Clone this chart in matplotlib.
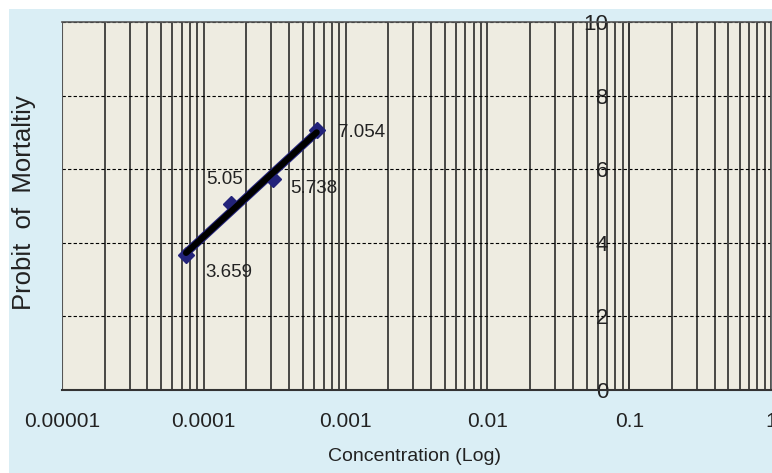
import numpy as np
import matplotlib.pyplot as plt
from matplotlib import font_manager
from matplotlib.patches import Rectangle
from matplotlib.ticker import FixedLocator, LogLocator, NullFormatter

# probit data
conc = [7.5e-5, 1.56e-4, 3.1e-4, 6.25e-4]
probit = [3.659, 5.05, 5.738, 7.054]
point_labels = ["3.659", "5.05", "5.738", "7.054"]
label_offsets = [(19, -17, "left"), (-7, 25, "center"), (17, -10, "left"), (21, -2, "left")]

x_ticks = [1e-5, 1e-4, 1e-3, 1e-2, 1e-1, 1]
x_ticklabels = ["0.00001", "0.0001", "0.001", "0.01", "0.1", "1"]
y_ticks = [0, 2, 4, 6, 8, 10]

plt.rcParams["font.family"] = ["Liberation Sans", "DejaVu Sans"]

# the x title is set in a condensed face in the original
installed = {f.name for f in font_manager.fontManager.ttflist}
if "Liberation Sans Narrow" in installed:
    xlabel_font, xlabel_size = ["Liberation Sans Narrow", "DejaVu Sans"], 17.5
else:
    xlabel_font, xlabel_size = ["Liberation Sans", "DejaVu Sans"], 14

fig = plt.figure(figsize=(7.72, 4.73), dpi=100)
fig.patch.set_facecolor("white")
fig.patches.append(Rectangle((9 / 772, 0), 1, 1 - 9 / 473, transform=fig.transFigure,
                             facecolor="#DAEEF5", edgecolor="none", zorder=-10))

ax = fig.add_axes([62 / 772, 83 / 473, 709 / 772, 368 / 473])
ax.set_facecolor("#EEECE1")
ax.set_xscale("log")
ax.set_xlim(1e-5, 1)
ax.set_ylim(0, 10)

# vertical grid on every log step, dashed horizontal grid
ax.xaxis.set_major_locator(FixedLocator(x_ticks))
ax.xaxis.set_minor_locator(LogLocator(base=10, subs=np.arange(2, 10)))
ax.xaxis.set_minor_formatter(NullFormatter())
ax.set_xticklabels(x_ticklabels)
ax.grid(True, which="both", axis="x", color="#1a1a1a", linewidth=1.1, linestyle="-")
ax.set_yticks(y_ticks)
ax.grid(True, which="major", axis="y", color="black", linewidth=0.8, linestyle=(0, (3, 2)))
ax.set_axisbelow(True)

ax.tick_params(axis="x", which="both", length=0, pad=16, labelsize=15, colors="#222222")
ax.tick_params(axis="y", length=0, pad=15, labelsize=16, colors="#222222")

for s in ["top", "right"]:
    ax.spines[s].set_color("#555555")
    ax.spines[s].set_linewidth(1.2)
ax.spines["bottom"].set_color("#333333")
ax.spines["bottom"].set_linewidth(1.5)
ax.spines["left"].set_position(("data", 0.1))
ax.spines["left"].set_color("#333333")
ax.spines["left"].set_linewidth(1.2)
# frame line on the far left
ax.axvline(1e-5, color="#555555", linewidth=1.5)

# points and fitted trend line
ax.plot(conc, probit, linestyle="none", marker="D", markersize=8,
        color="#23237A", zorder=3)
lx = np.log10(conc)
slope, intercept = np.polyfit(lx, probit, 1)
fit_x = np.array([lx[0], lx[-1]])
ax.plot(10 ** fit_x, slope * fit_x + intercept, color="#23237A", linewidth=6,
        solid_capstyle="round", zorder=3.5)
ax.plot(10 ** fit_x, slope * fit_x + intercept, color="black", linewidth=4.5,
        solid_capstyle="round", zorder=4)

for xv, yv, txt, (dx, dy, ha) in zip(conc, probit, point_labels, label_offsets):
    ax.annotate(txt, (xv, yv), xytext=(dx, dy), textcoords="offset pixels",
                ha=ha, va="center", fontsize=13.5, color="#222222", zorder=5)

fig.text(24 / 772, 1 - 203 / 473, "Probit  of  Mortaltiy", rotation=90,
         ha="center", va="center", fontsize=18.5, color="#222222")
fig.text(415 / 772, 1 - 456 / 473, "Concentration (Log)", family=xlabel_font,
         ha="center", va="center", fontsize=xlabel_size, color="#222222")

fig.savefig("out.png", dpi=100)
